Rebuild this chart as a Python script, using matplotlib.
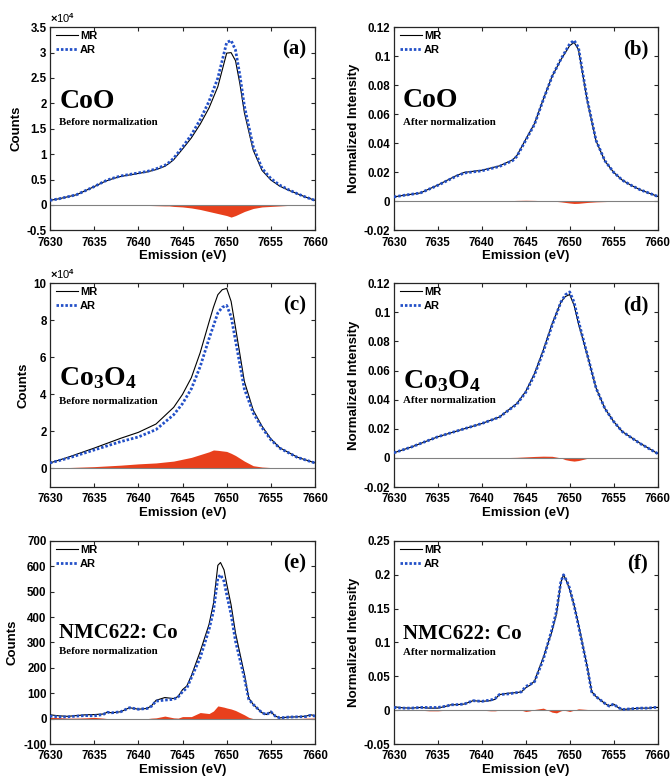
import matplotlib
matplotlib.use('Agg')
import matplotlib.pyplot as plt
from matplotlib.lines import Line2D
import numpy as np

plt.rcParams['font.family'] = ['Liberation Sans', 'DejaVu Sans']
plt.rcParams['font.weight'] = 'bold'
plt.rcParams['mathtext.fontset'] = 'custom'
plt.rcParams['mathtext.rm'] = 'Liberation Sans'
plt.rcParams['mathtext.bf'] = 'Liberation Serif:bold'

# ---------------- data ----------------
# (a) CoO before normalization (counts, x1e4)
x_a = [7630, 7631, 7632, 7633, 7634, 7635, 7636, 7636.5, 7637, 7638, 7639, 7640, 7641, 7642,
       7643, 7643.5, 7644, 7645, 7646, 7647, 7648, 7649, 7650, 7650.5, 7651, 7651.5, 7652,
       7653, 7654, 7655, 7656, 7657, 7658, 7659, 7660]
ar_a = [0.09, 0.12, 0.16, 0.2, 0.28, 0.36, 0.45, 0.49, 0.52, 0.57, 0.6, 0.63, 0.66, 0.71,
        0.78, 0.84, 0.92, 1.14, 1.38, 1.68, 2.04, 2.5, 3.2, 3.24, 3.05, 2.55, 1.95,
        1.15, 0.72, 0.52, 0.39, 0.3, 0.22, 0.15, 0.09]
mr_a = [0.09, 0.12, 0.16, 0.2, 0.28, 0.36, 0.445, 0.48, 0.51, 0.56, 0.59, 0.62, 0.65, 0.695,
        0.76, 0.82, 0.89, 1.10, 1.32, 1.59, 1.91, 2.33, 2.99, 3.0, 2.84, 2.38, 1.82,
        1.08, 0.68, 0.49, 0.37, 0.29, 0.22, 0.15, 0.09]

# (b) CoO after normalization
x_b = [7630, 7631, 7633, 7635, 7636, 7637, 7638, 7640, 7642, 7643.5, 7644, 7645, 7646, 7647,
       7648, 7649, 7650, 7650.5, 7651, 7652, 7653, 7654, 7655, 7656, 7657, 7658, 7660]
ar_b = [0.003, 0.004, 0.0057, 0.011, 0.014, 0.017, 0.0195, 0.021, 0.024, 0.028, 0.031, 0.042,
        0.053, 0.07, 0.086, 0.098, 0.1085, 0.111, 0.106, 0.07, 0.042, 0.028, 0.02, 0.0145,
        0.011, 0.008, 0.0034]
dif_b = [0, 0, 0, 0.0002, 0.0003, 0.0004, 0.0004, 0.0004, 0.0004, 0.0005, 0.0006, 0.0007,
         0.0006, 0.0004, 0.0002, -0.0004, -0.0012, -0.0015, -0.0014, -0.0008, -0.0004,
         -0.0002, 0, 0, 0, 0, 0]

# (c) Co3O4 before normalization (counts, x1e4)
x_c = [7630, 7632, 7635, 7638, 7640, 7642, 7644, 7645, 7646, 7647, 7648, 7648.5, 7649,
       7649.5, 7650, 7650.5, 7651, 7651.5, 7652, 7653, 7654, 7655, 7656, 7658, 7660]
ar_c = [0.3, 0.55, 1.0, 1.45, 1.7, 2.1, 2.9, 3.5, 4.3, 5.5, 7.0, 7.7, 8.4, 8.7, 8.8, 8.2,
        6.9, 5.6, 4.3, 3.0, 2.2, 1.55, 1.1, 0.6, 0.3]
mr_c = [0.3, 0.6, 1.1, 1.63, 1.95, 2.4, 3.3, 4.0, 4.9, 6.25, 7.9, 8.7, 9.38, 9.65, 9.72,
        9.02, 7.6, 6.15, 4.7, 3.15, 2.28, 1.6, 1.12, 0.61, 0.3]

# (d) Co3O4 after normalization
x_d = [7630, 7632, 7635, 7638, 7640, 7642, 7644, 7645, 7646, 7647, 7648, 7649, 7649.5, 7650,
       7650.5, 7651, 7652, 7653, 7654, 7655, 7656, 7658, 7660]
ar_d = [0.0035, 0.0075, 0.0145, 0.02, 0.0236, 0.028, 0.037, 0.045, 0.057, 0.073, 0.091,
        0.107, 0.112, 0.114, 0.107, 0.094, 0.071, 0.048, 0.034, 0.025, 0.018, 0.0099, 0.003]
dif_d = [0, 0, 0, 0, 0, 0.0001, 0.0004, 0.0007, 0.001, 0.0012, 0.0011, 0.0, -0.0012,
         -0.0018, -0.0022, -0.0018, -0.0003, 0, 0, 0, 0, 0.0002, 0]

# (e)/(f) NMC622: Co
x_e = [7630, 7631, 7632, 7633, 7634, 7635, 7636, 7636.5, 7637, 7638, 7639, 7640, 7641,
       7641.5, 7642, 7643, 7644, 7644.5, 7645, 7645.5, 7646, 7647, 7648, 7648.5, 7649,
       7649.3, 7649.7, 7650, 7650.5, 7651, 7652, 7652.5, 7653, 7654, 7654.5, 7655, 7655.5,
       7656, 7657, 7658, 7659, 7659.5, 7660]
ar_e = [10, 7, 7, 10, 12, 11, 16, 25, 23, 27, 43, 37, 40, 49, 69, 73, 76, 85, 106, 121,
        161, 240, 351, 423, 554, 567, 541, 489, 410, 305, 161, 76, 56, 23, 16, 27, 10, 3,
        6, 7, 8, 13, 10]
dif_e = [5, 4, 2, 2, 3, 5, 2, 0, 0, 0, 0, 0, 0, 2, 3, 10, 3, 2, 8, 8, 8, 24, 20, 30, 50,
         48, 45, 42, 38, 32, 15, 5, 0, 0, 0, 0, 0, 0, 0, 0, 2, 2, 2]
ar_f = [0.004, 0.003, 0.003, 0.004, 0.004, 0.004, 0.006, 0.008, 0.008, 0.009, 0.014, 0.013,
        0.015, 0.017, 0.023, 0.024, 0.026, 0.027, 0.035, 0.038, 0.042, 0.075, 0.12, 0.146,
        0.19, 0.2, 0.19, 0.18, 0.155, 0.125, 0.063, 0.027, 0.02, 0.01, 0.006, 0.009, 0.004,
        0.001, 0.002, 0.003, 0.003, 0.004, 0.004]
dif_f = [0.001, 0.0005, 0, 0, -0.001, -0.001, 0, 0, 0, 0, 0, 0, -0.001, -0.001, 0, 0.001,
         0, 0, -0.002, -0.001, 0.001, 0.003, -0.003, -0.004, -0.001, 0, -0.001, -0.002, 0,
         0.002, 0.001, 0.0005, 0, 0, 0, 0, 0, 0, 0, 0, 0, 0, 0]

xticks = [7630, 7635, 7640, 7645, 7650, 7655, 7660]

# ---------------- style ----------------
BLUE = '#2350c8'
RED = '#e8401c'
AXC = '#262626'
SERIF = ['Liberation Serif', 'DejaVu Serif']
TICK_FS = 8.3

fig = plt.figure(figsize=(6.71, 7.78), dpi=100)


def make_ax(rect, x, mr, ar, diff, ylim, yticks, yticklabels, ylabel, name, name_y, name_fs,
            note, note_y, letter, mult=False):
    ax = fig.add_axes(rect)
    x = np.asarray(x, float)
    mr = np.asarray(mr, float)
    ar = np.asarray(ar, float)
    diff = np.asarray(diff, float)
    ax.fill_between(x, 0, diff, color=RED, lw=0, zorder=1)
    ax.axhline(0, color='#808080', lw=0.8, zorder=2)
    ax.plot(x, mr, color='black', lw=0.8, zorder=3)
    ax.plot(x, ar, color=BLUE, lw=2.0, linestyle=(0, (0.9, 0.7)), zorder=4)
    ax.set_xlim(7630, 7660)
    ax.set_ylim(*ylim)
    ax.set_xticks(xticks)
    ax.set_xticklabels([str(t) for t in xticks])
    ax.set_yticks(yticks)
    ax.set_yticklabels(yticklabels)
    ax.tick_params(direction='in', top=True, right=True, length=3, width=0.8,
                   labelsize=TICK_FS, colors=AXC, labelcolor='black')
    ax.tick_params(axis='x', pad=4.5)
    ax.tick_params(axis='y', pad=2.5)
    for lab in ax.get_xticklabels() + ax.get_yticklabels():
        lab.set_fontweight('bold')
    for s in ax.spines.values():
        s.set_color(AXC)
        s.set_linewidth(0.9)
    ax.set_xlabel('Emission (eV)', fontsize=9.5, fontweight='bold', labelpad=1)
    ax.set_ylabel(ylabel, fontsize=9.5, fontweight='bold', labelpad=3)
    handles = [Line2D([], [], color='black', lw=0.8),
               Line2D([], [], color=BLUE, lw=2.0, linestyle=(0, (0.9, 0.7)))]
    ax.legend(handles, ['MR', 'AR'], loc='upper left', bbox_to_anchor=(-0.015, 1.03),
              frameon=False, handlelength=2.0, handletextpad=0.15, labelspacing=0.35,
              prop={'size': 8, 'weight': 'bold'})
    ax.text(0.035, name_y, name, transform=ax.transAxes, fontsize=name_fs,
            fontweight='bold', family=SERIF, va='baseline', ha='left')
    ax.text(0.035, note_y, note, transform=ax.transAxes, fontsize=7.8,
            fontweight='bold', family=SERIF, va='baseline', ha='left')
    ax.text(0.965, 0.865, letter, transform=ax.transAxes, fontsize=15,
            fontweight='bold', family=SERIF, va='baseline', ha='right')
    if mult:
        ax.text(0.0, 1.012, r'$\times$10$^{4}$', transform=ax.transAxes, fontsize=8,
                fontweight='normal', va='bottom', ha='left')
    return ax


L1, L2, W = 0.0745, 0.587, 0.393
H = 0.261

make_ax([L1, 0.704, 0.395, H], x_a, mr_a, ar_a, np.subtract(mr_a, ar_a), (-0.5, 3.5),
        [-0.5, 0, 0.5, 1, 1.5, 2, 2.5, 3, 3.5],
        ['-0.5', '0', '0.5', '1', '1.5', '2', '2.5', '3', '3.5'], 'Counts',
        'CoO', 0.60, 20, 'Before normalization', 0.517, '(a)', mult=True)
make_ax([L2, 0.704, W, H], x_b, np.add(ar_b, dif_b), ar_b, dif_b, (-0.02, 0.12),
        [-0.02, 0, 0.02, 0.04, 0.06, 0.08, 0.1, 0.12],
        ['-0.02', '0', '0.02', '0.04', '0.06', '0.08', '0.1', '0.12'], 'Normalized Intensity',
        'CoO', 0.606, 20, 'After normalization', 0.52, '(b)')
make_ax([L1, 0.374, 0.395, 0.262], x_c, mr_c, ar_c, np.subtract(mr_c, ar_c), (-1, 10),
        [0, 2, 4, 6, 8, 10], ['0', '2', '4', '6', '8', '10'], 'Counts',
        r'$\mathbf{Co_3O_4}$', 0.50, 20, 'Before normalization', 0.407, '(c)', mult=True)
make_ax([L2, 0.374, W, 0.262], x_d, np.add(ar_d, dif_d), ar_d, dif_d, (-0.02, 0.12),
        [-0.02, 0, 0.02, 0.04, 0.06, 0.08, 0.1, 0.12],
        ['-0.02', '0', '0.02', '0.04', '0.06', '0.08', '0.1', '0.12'], 'Normalized Intensity',
        r'$\mathbf{Co_3O_4}$', 0.485, 20, 'After normalization', 0.41, '(d)')
make_ax([L1, 0.0437, 0.395, H], x_e, np.add(ar_e, dif_e), ar_e, dif_e, (-100, 700),
        [-100, 0, 100, 200, 300, 400, 500, 600, 700],
        ['-100', '0', '100', '200', '300', '400', '500', '600', '700'], 'Counts',
        'NMC622: Co', 0.52, 15, 'Before normalization', 0.443, '(e)')
make_ax([L2, 0.0437, W, H], x_e, np.add(ar_f, dif_f), ar_f, dif_f, (-0.05, 0.25),
        [-0.05, 0, 0.05, 0.1, 0.15, 0.2, 0.25],
        ['-0.05', '0', '0.05', '0.1', '0.15', '0.2', '0.25'], 'Normalized Intensity',
        'NMC622: Co', 0.517, 15, 'After normalization', 0.438, '(f)')

fig.savefig('out.png', dpi=100)
